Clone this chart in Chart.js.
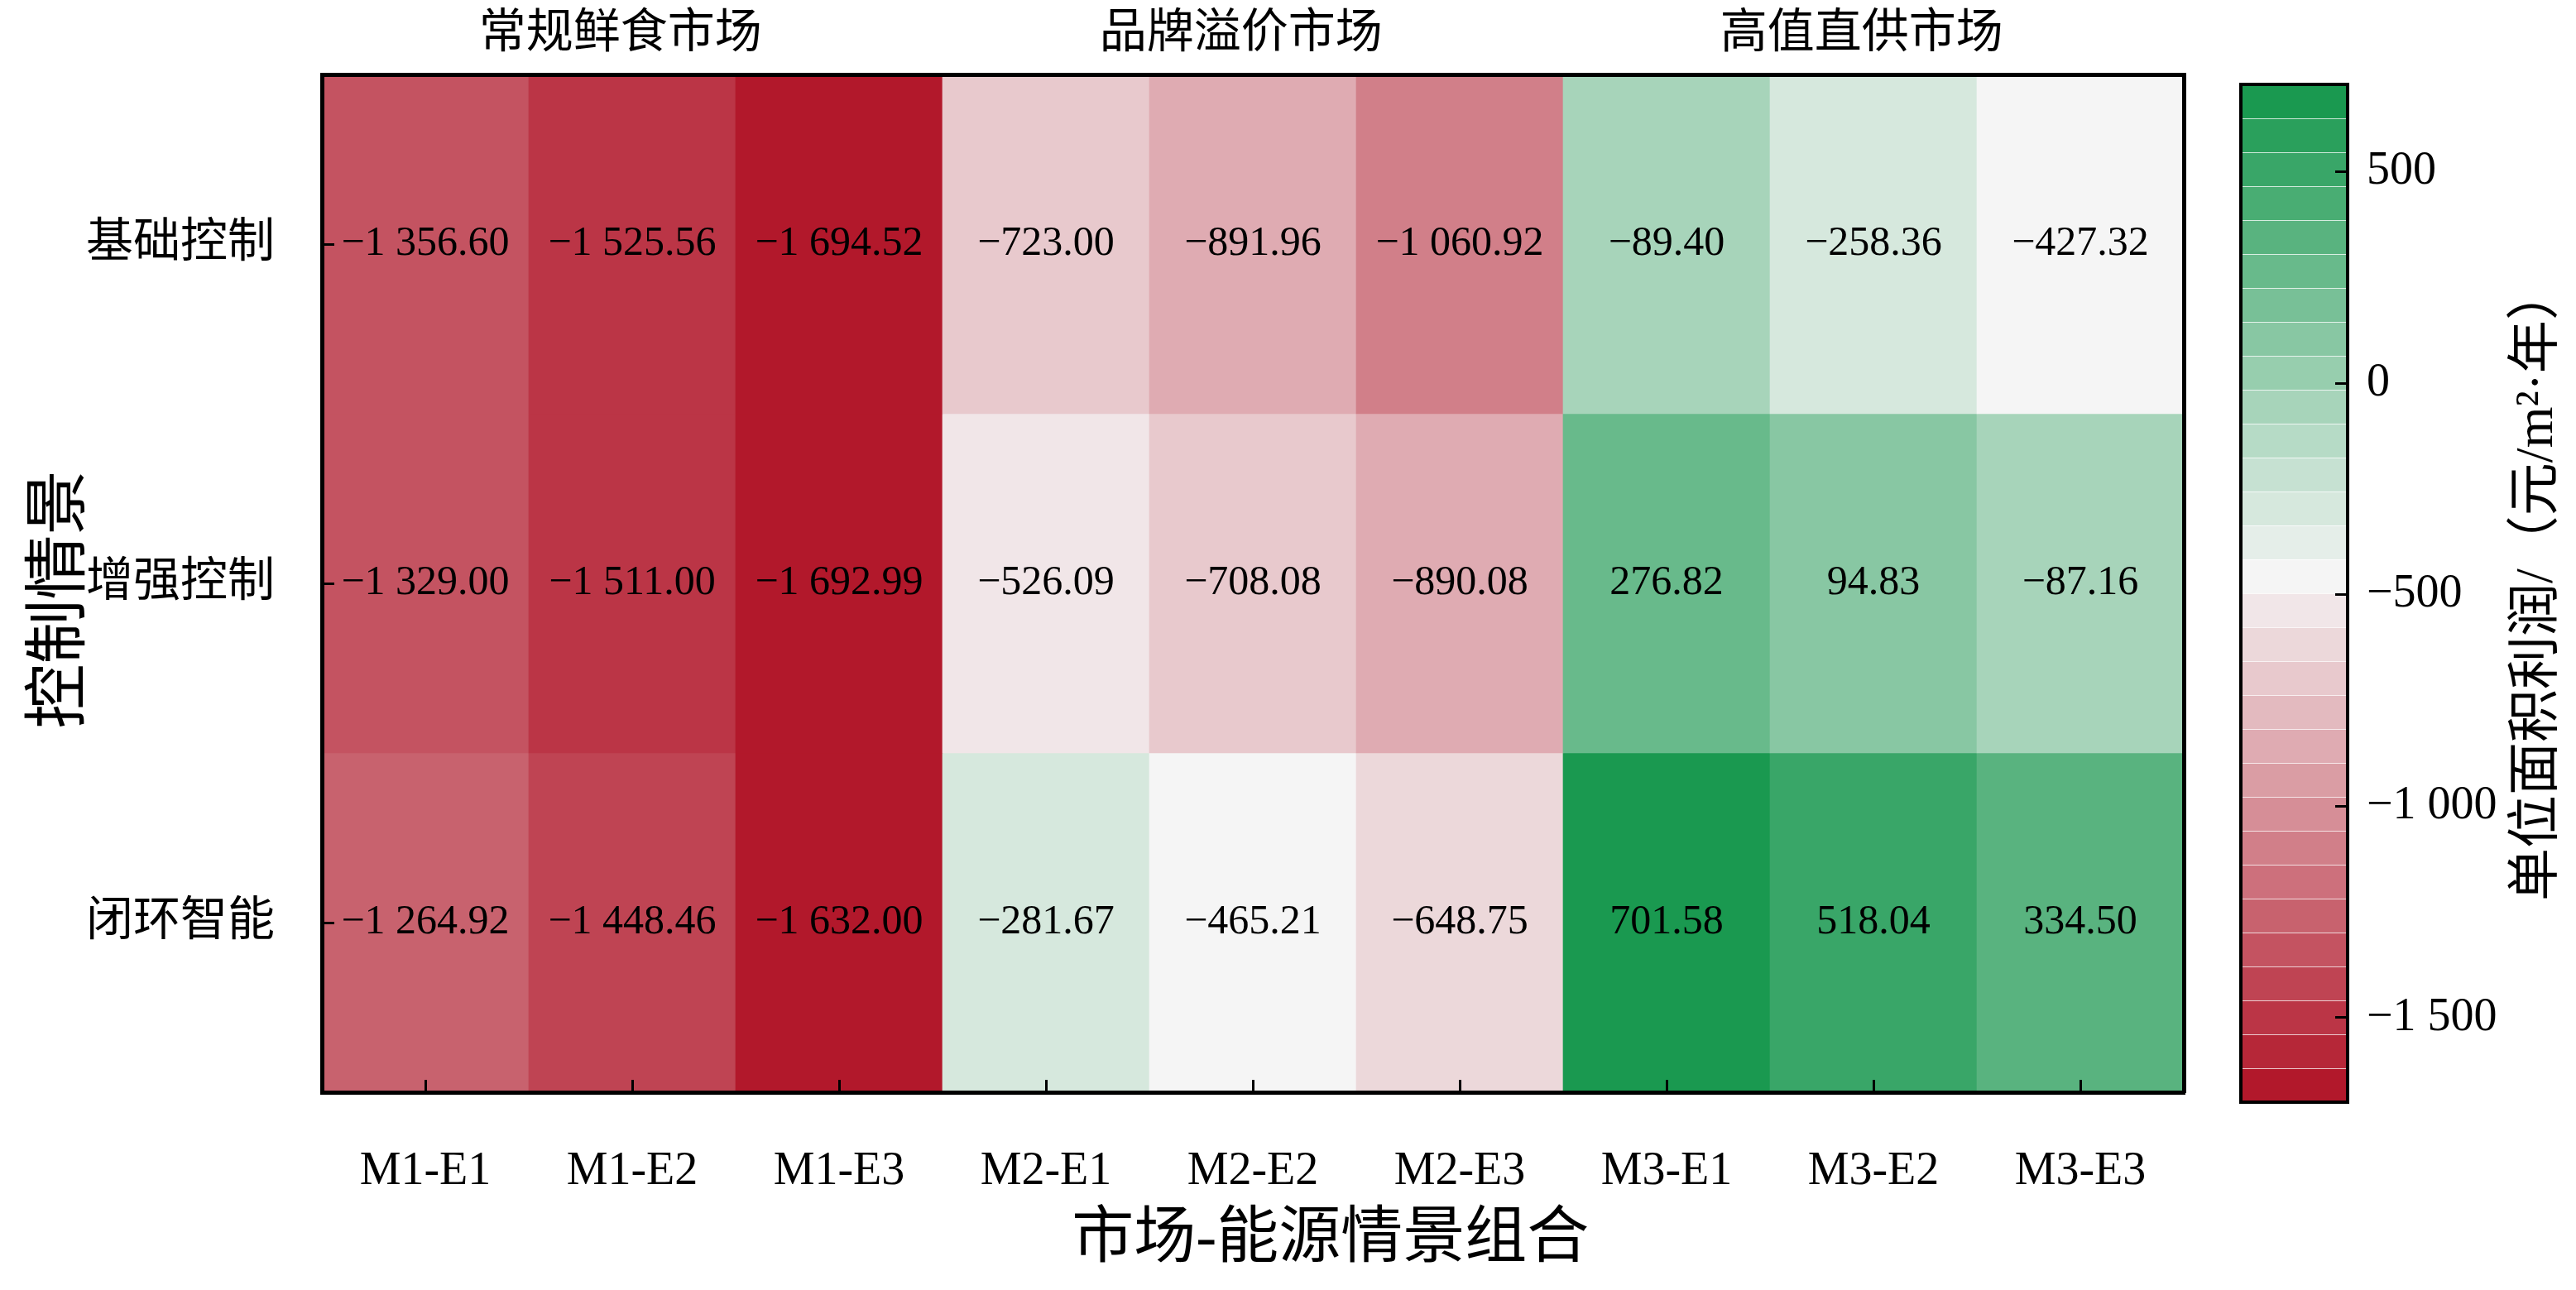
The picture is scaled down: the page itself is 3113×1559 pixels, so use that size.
<!DOCTYPE html>
<html>
<head>
<meta charset="utf-8">
<script src="https://cdn.jsdelivr.net/npm/chart.js@4.4.1/dist/chart.umd.min.js"></script>
<style>
  html, body { margin: 0; padding: 0; background: #fff; }
  #wrap { position: relative; width: 3113px; height: 1559px; }
  #heat { position: absolute; left: 0; top: 0; }
  #cbar { position: absolute; left: 2660px; top: 0; }
</style>
</head>
<body>
<div id="wrap">
  <canvas id="heat" width="2660" height="1559"></canvas>
  <canvas id="cbar" width="453" height="1559"></canvas>
</div>
<script>
// data
const combos = ['M1-E1', 'M1-E2', 'M1-E3', 'M2-E1', 'M2-E2', 'M2-E3', 'M3-E1', 'M3-E2', 'M3-E3'];
const groupNames = ['常规鲜食市场', '品牌溢价市场', '高值直供市场'];
const scenarios = ['基础控制', '增强控制', '闭环智能'];
const basicCtrl = [-1356.60, -1525.56, -1694.52, -723.00, -891.96, -1060.92, -89.40, -258.36, -427.32];
const enhancedCtrl = [-1329.00, -1511.00, -1692.99, -526.09, -708.08, -890.08, 276.82, 94.83, -87.16];
const closedLoop = [-1264.92, -1448.46, -1632.00, -281.67, -465.21, -648.75, 701.58, 518.04, 334.50];
const cbarTicks = [500, 0, -500, -1000, -1500];
// colorbar limits
const cbarMin = -1700;
const cbarMax = 707;

const FONT = '"Liberation Serif", "Noto Sans CJK SC"';
const nLevels = 30;
const neutralLevel = 15;
const low = [178, 24, 43], mid = [245, 245, 245], high = [26, 153, 80];

const rows = [basicCtrl, enhancedCtrl, closedLoop];

function mix(a, b, f) {
  const c = a.map((x, i) => Math.round(x + (b[i] - x) * f));
  return 'rgb(' + c.join(',') + ')';
}

// discrete diverging map: red -> grey at level 15 -> green
function lutColor(k) {
  if (k < neutralLevel) return mix(low, mid, k / neutralLevel);
  return mix(mid, high, (k - neutralLevel) / (nLevels - 1 - neutralLevel));
}

function colorFor(v) {
  let k = Math.floor((v - cbarMin) / (cbarMax - cbarMin) * nLevels);
  if (k >= nLevels) k = nLevels - 1;
  if (k < 0) k = 0;
  return lutColor(k);
}

function groupDigits(s) {
  return s.length > 3 ? s.slice(0, -3) + ' ' + s.slice(-3) : s;
}

function fmtCell(v) {
  const parts = Math.abs(v).toFixed(2).split('.');
  return (v < 0 ? '\u2212' : '') + groupDigits(parts[0]) + '.' + parts[1];
}

function fmtTick(v) {
  if (v === 0) return '0';
  return (v < 0 ? '\u2212' : '') + groupDigits(String(Math.abs(v)));
}

function noPad(s) {
  s.paddingLeft = 0;
  s.paddingRight = 0;
  s.paddingTop = 0;
  s.paddingBottom = 0;
}

// top axis shows the market group over the middle column of each group
const topLabels = combos.map((c, i) => (i % 3 === 1 ? groupNames[(i - 1) / 3] + '\u2002' : ''));

const cellLabels = {
  id: 'cellLabels',
  afterDatasetsDraw(chart) {
    const ctx = chart.ctx;
    const yScale = chart.scales.y;
    ctx.save();
    ctx.font = '50px ' + FONT;
    ctx.fillStyle = '#000';
    ctx.textAlign = 'center';
    ctx.textBaseline = 'middle';
    rows.forEach((vals, r) => {
      const meta = chart.getDatasetMeta(r);
      meta.data.forEach((bar, i) => {
        ctx.fillText(fmtCell(vals[i]), bar.x, yScale.getPixelForValue(r + 0.5));
      });
    });
    ctx.restore();
  }
};

new Chart(document.getElementById('heat'), {
  type: 'bar',
  data: {
    labels: combos,
    datasets: rows.map((vals, r) => ({
      label: scenarios[r],
      data: vals.map(() => [r, r + 1]),
      backgroundColor: vals.map(colorFor),
      borderWidth: 0,
      barPercentage: 1,
      categoryPercentage: 1,
      grouped: false
    }))
  },
  options: {
    responsive: false,
    animation: false,
    devicePixelRatio: 1,
    layout: { padding: 0 },
    plugins: { legend: { display: false }, tooltip: { enabled: false } },
    scales: {
      x: {
        position: 'bottom',
        offset: true,
        grid: { offset: false, drawOnChartArea: false, tickLength: -15, lineWidth: 3, color: '#000', z: 1 },
        border: { display: true, color: '#000', width: 5, z: 1 },
        ticks: { font: { size: 56, family: FONT }, color: '#000', padding: 78, maxRotation: 0, autoSkip: false },
        title: {
          display: true,
          text: '\u3000\u3000\u2002市场-能源情景组合',
          font: { size: 75, family: FONT },
          color: '#000',
          padding: { top: 0, bottom: 15 }
        },
        afterFit: (s) => { s.height = 239; noPad(s); }
      },
      x2: {
        type: 'category',
        position: 'top',
        labels: topLabels,
        offset: true,
        grid: { display: false },
        border: { display: true, color: '#000', width: 5, z: 1 },
        ticks: { font: { size: 57, family: FONT }, color: '#000', padding: 6, maxRotation: 0, autoSkip: false },
        afterFit: (s) => { s.height = 90; noPad(s); }
      },
      y: {
        type: 'linear',
        position: 'left',
        min: 0,
        max: 3,
        reverse: true,
        afterBuildTicks: (s) => { s.ticks = scenarios.map((n, i) => ({ value: i + 0.5 })); },
        ticks: {
          callback: (v) => scenarios[Math.floor(v)],
          font: { size: 57, family: FONT },
          color: '#000',
          padding: 72
        },
        grid: { drawOnChartArea: false, tickLength: -15, lineWidth: 3, color: '#000', z: 1 },
        border: { display: true, color: '#000', width: 5, z: 1 },
        title: {
          display: true,
          text: '控制情景\u2002',
          font: { size: 78, family: FONT },
          color: '#000',
          padding: { top: 29, bottom: 0 }
        },
        afterFit: (s) => { s.width = 389; noPad(s); }
      },
      y2: {
        type: 'linear',
        position: 'right',
        min: 0,
        max: 3,
        ticks: { display: false },
        grid: { display: false },
        border: { display: true, color: '#000', width: 5, z: 1 },
        afterFit: (s) => { s.width = 21; noPad(s); }
      }
    }
  },
  plugins: [cellLabels]
});

// colorbar: 30 discrete levels between the colorbar limits
const bandEdges = [];
for (let k = 0; k <= nLevels; k++) bandEdges.push(cbarMin + (cbarMax - cbarMin) * k / nLevels);

const cbarFrame = {
  id: 'cbarFrame',
  afterDraw(chart) {
    const { ctx, chartArea: a } = chart;
    ctx.save();
    ctx.strokeStyle = '#000';
    ctx.lineWidth = 4;
    ctx.strokeRect(a.left, a.top, a.right - a.left, a.bottom - a.top);
    ctx.font = '64px ' + FONT;
    ctx.fillStyle = '#000';
    ctx.textAlign = 'center';
    ctx.textBaseline = 'middle';
    ctx.translate(407, 706);
    ctx.rotate(-Math.PI / 2);
    ctx.fillText('单位面积利润/（元/m²·年）', 0, 0);
    ctx.restore();
  }
};

new Chart(document.getElementById('cbar'), {
  type: 'bar',
  data: {
    labels: [''],
    datasets: bandEdges.slice(0, -1).map((lo, k) => ({
      data: [[lo, bandEdges[k + 1]]],
      backgroundColor: lutColor(k),
      borderColor: 'rgba(255,255,255,0.25)',
      borderWidth: { top: 1, bottom: 0, left: 0, right: 0 },
      borderSkipped: false,
      barPercentage: 1,
      categoryPercentage: 1,
      grouped: false
    }))
  },
  options: {
    responsive: false,
    animation: false,
    devicePixelRatio: 1,
    layout: { padding: { left: 48, top: 102, bottom: 227, right: 0 } },
    plugins: { legend: { display: false }, tooltip: { enabled: false } },
    scales: {
      x: { display: false, offset: true },
      y: {
        type: 'linear',
        position: 'right',
        min: cbarMin,
        max: cbarMax,
        afterBuildTicks: (s) => { s.ticks = cbarTicks.map((v) => ({ value: v })); },
        ticks: { callback: fmtTick, font: { size: 56, family: FONT }, color: '#000', padding: 38 },
        grid: { drawOnChartArea: false, tickLength: -15, lineWidth: 3, color: '#000', z: 1 },
        border: { display: false },
        afterFit: (s) => { s.width = 276; noPad(s); }
      }
    }
  },
  plugins: [cbarFrame]
});
</script>
</body>
</html>
